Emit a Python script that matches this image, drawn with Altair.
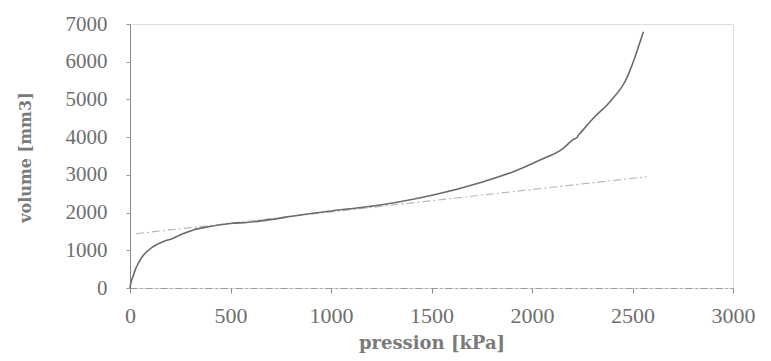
import altair as alt
import pandas as pd

# measured curve: pressure [kPa] vs volume [mm3]
pression = [0, 3, 8, 16, 26, 41, 60, 83, 105, 133, 170, 215, 260, 315, 398, 514, 580, 680, 846, 1011, 1178, 1343,
            1509, 1758, 1907, 2040, 2156, 2206, 2225, 2232, 2239, 2305, 2388, 2471, 2504, 2554]
volume = [0, 100, 210, 320, 480, 650, 820, 960, 1060, 1150, 1240, 1320, 1430, 1540, 1630, 1716, 1735, 1800, 1936, 2050, 2156, 2289,
          2466, 2819, 3084, 3394, 3705, 3940, 4000, 4060, 4102, 4500, 4940, 5561, 6001, 6797]

# tangent (dash-dot) line
tan_pression = [30, 2570]
tan_volume = [1440, 2950]

x_ticks = [0, 500, 1000, 1500, 2000, 2500, 3000]
y_ticks = [0, 1000, 2000, 3000, 4000, 5000, 6000, 7000]

curve = pd.DataFrame({"pression": pression, "volume": volume})
tangent = pd.DataFrame({"pression": tan_pression, "volume": tan_volume})

label_font = "Liberation Serif"

x_enc = alt.X(
    "pression:Q",
    scale=alt.Scale(domain=[0, 3000], nice=False, zero=True),
    axis=alt.Axis(
        title="pression [kPa]", values=x_ticks, grid=False, format="d", labelOverlap=False,
        labelFlush=False,
        domainColor="#9a9a9a", domainDash=[7, 3, 2, 3], domainWidth=1,
        tickColor="#8a8a8a", tickSize=5, labelPadding=12,
        labelFont=label_font, labelFontSize=22, labelColor="#6e6e6e",
        titleFont="DejaVu Serif", titleFontWeight="bold", titleFontSize=18,
        titleColor="#7a7a7a", titleY=60, titleBaseline="alphabetic",
    ),
)
y_enc = alt.Y(
    "volume:Q",
    scale=alt.Scale(domain=[0, 7000], nice=False),
    axis=alt.Axis(
        title="volume [mm3]", values=y_ticks, grid=False, format="d", labelOverlap=False,
        labelFlush=False,
        domainColor="#8a8a8a", domainWidth=1,
        tickColor="#9a9a9a", tickSize=4, labelPadding=19,
        labelFont=label_font, labelFontSize=21, labelColor="#6e6e6e",
        titleFont="DejaVu Serif", titleFontWeight="bold", titleFontSize=16,
        titleColor="#7a7a7a", titleX=-97, titleY=133,
    ),
)

line_curve = alt.Chart(curve).mark_line(
    color="#6a6a6a", strokeWidth=1.6, interpolate="monotone"
).encode(x=x_enc, y=y_enc)
line_tan = alt.Chart(tangent).mark_line(
    color="#b4b4b4", strokeWidth=1.1, strokeDash=[8, 3, 2, 3]
).encode(x=x_enc, y=y_enc)

chart = alt.layer(line_tan, line_curve).properties(
    width=603, height=264,
    autosize=alt.AutoSizeParams(type="none"),
    padding={"left": 122, "top": 16, "right": 30, "bottom": 65},
).configure_view(stroke=None).configure(background="white")

chart.save("out.html", embed_options={"renderer": "svg", "actions": False})
